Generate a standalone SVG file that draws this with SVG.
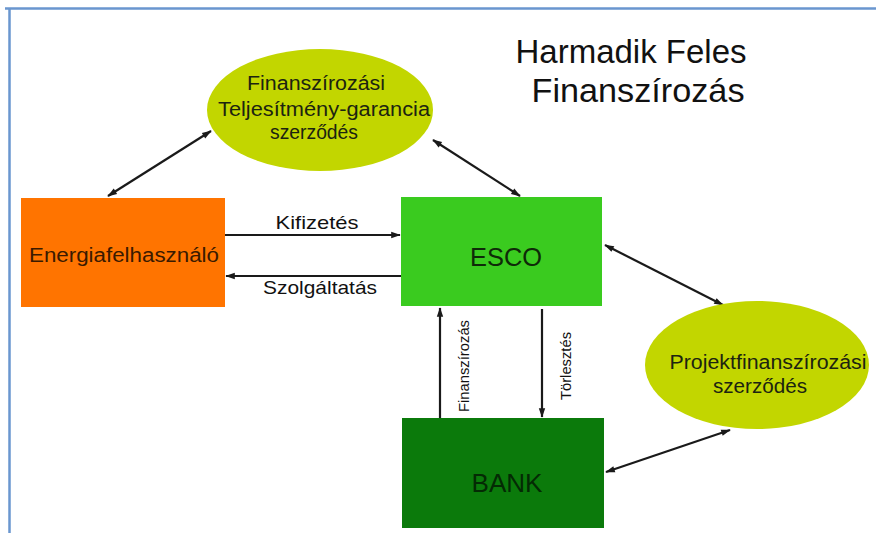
<svg xmlns="http://www.w3.org/2000/svg" width="876" height="533" viewBox="0 0 876 533">
<defs>
<marker id="ah" viewBox="0 0 12 10" refX="11" refY="5" markerWidth="12" markerHeight="8" markerUnits="userSpaceOnUse" orient="auto-start-reverse"><path d="M0,1 L12,5 L0,9 Z" fill="#1a1a1a"/></marker>
<style>
text{font-family:"Liberation Sans",Arial,sans-serif;fill:#1c2410;text-anchor:middle}
.c{stroke:#1a1a1a;stroke-width:2.2;fill:none}
.lbl{font-size:19px;fill:#111}
.rot{font-size:15px;fill:#111}
.ell{fill:#c2d600}
.et{font-size:20px}
</style>
</defs>
<rect width="876" height="533" fill="#fff"/>
<path d="M5,8.5 H876 M9.5,8 V533" stroke="#6a96cf" stroke-width="2.5" fill="none"/>
<g id="title"><text x="631" y="63" textLength="231" lengthAdjust="spacingAndGlyphs" style="font-size:33px;fill:#111">Harmadik Feles</text><text x="638" y="102" textLength="213" lengthAdjust="spacingAndGlyphs" style="font-size:33px;fill:#111">Finanszírozás</text></g>
<g id="connectors">
<line class="c" x1="211" y1="131" x2="108" y2="196" marker-start="url(#ah)" marker-end="url(#ah)"/>
<line class="c" x1="433" y1="140" x2="520" y2="196" marker-start="url(#ah)" marker-end="url(#ah)"/>
<line class="c" x1="225" y1="235" x2="400" y2="235" marker-end="url(#ah)"/>
<line class="c" x1="401" y1="276" x2="226" y2="276" marker-end="url(#ah)"/>
<line class="c" x1="440" y1="418" x2="440" y2="308" marker-end="url(#ah)"/>
<line class="c" x1="542" y1="309" x2="542" y2="417" marker-end="url(#ah)"/>
<line class="c" x1="605" y1="245" x2="723" y2="305" marker-start="url(#ah)" marker-end="url(#ah)"/>
<line class="c" x1="606" y1="472" x2="730" y2="430" marker-start="url(#ah)" marker-end="url(#ah)"/>
<text class="lbl" x="317" y="229" textLength="83" lengthAdjust="spacingAndGlyphs">Kifizetés</text>
<text class="lbl" x="320" y="294" textLength="114" lengthAdjust="spacingAndGlyphs">Szolgáltatás</text>
<text class="rot" transform="translate(469,366) rotate(-90)" textLength="92" lengthAdjust="spacingAndGlyphs">Finanszírozás</text>
<text class="rot" transform="translate(571,366) rotate(-90)" textLength="68" lengthAdjust="spacingAndGlyphs">Törlesztés</text>
</g>
<g id="fin-ellipse"><ellipse class="ell" cx="320" cy="110" rx="113" ry="61"/><text class="et" x="316" y="90" textLength="138" lengthAdjust="spacingAndGlyphs">Finanszírozási</text><text class="et" x="324" y="116" textLength="212" lengthAdjust="spacingAndGlyphs">Teljesítmény-garancia</text><text class="et" x="314" y="139" textLength="88" lengthAdjust="spacingAndGlyphs">szerződés</text></g>
<g id="energia"><rect x="21" y="198" width="204" height="109" fill="#ff7400"/><text x="124" y="262" textLength="190" lengthAdjust="spacingAndGlyphs" style="font-size:20px;fill:#3a1a00">Energiafelhasználó</text></g>
<g id="esco"><rect x="401" y="197" width="201" height="109" fill="#3acb1f"/><text x="506" y="266" textLength="72" lengthAdjust="spacingAndGlyphs" style="font-size:25px;fill:#0e2a08">ESCO</text></g>
<g id="bank"><rect x="402" y="418" width="202" height="110" fill="#0b7a0b"/><text x="507" y="492" textLength="71" lengthAdjust="spacingAndGlyphs" style="font-size:25px;fill:#042a04">BANK</text></g>
<g id="proj-ellipse"><ellipse class="ell" cx="757" cy="365" rx="112" ry="64"/><text class="et" x="768" y="369" textLength="197" lengthAdjust="spacingAndGlyphs">Projektfinanszírozási</text><text class="et" x="760" y="393" textLength="94" lengthAdjust="spacingAndGlyphs">szerződés</text></g>
</svg>
